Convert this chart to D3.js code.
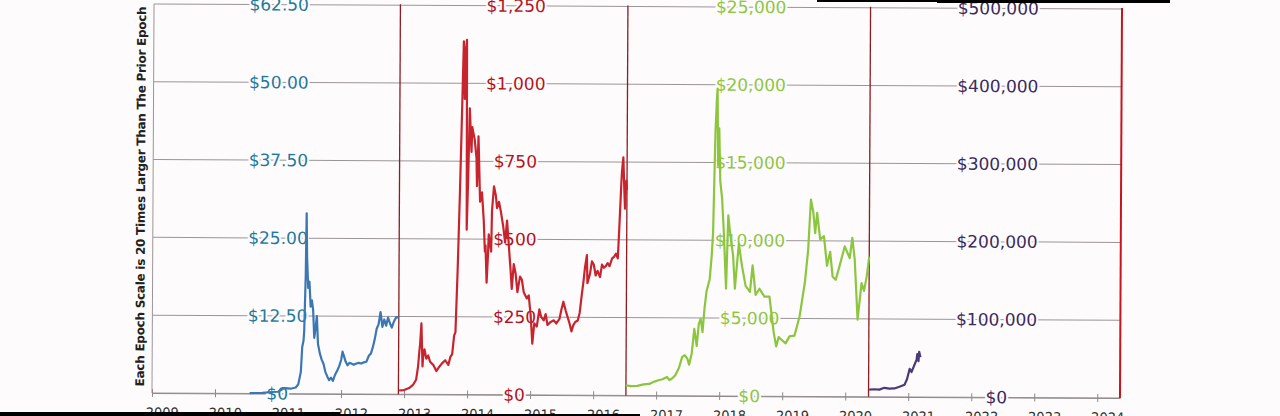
<!DOCTYPE html>
<html>
<head>
<meta charset="utf-8">
<script src="https://cdn.jsdelivr.net/npm/d3@7"></script>
<style>
  html, body { margin: 0; padding: 0; background: #fdfbfc; }
  svg { display: block; }
</style>
</head>
<body>
<div id="chart"></div>
<script>
// epoch boundaries (halvings) in decimal years
const epochStarts = [2009, 2012.91, 2016.52, 2020.37];
const epochEnd = 2024.36;
const epochMax = [62.5, 1250, 25000, 500000];
const yearTicks = d3.range(2009, 2025);

// epoch 1 - blue
const e1Years = [2010.55, 2010.75, 2010.9, 2011.0, 2011.1, 2011.2, 2011.28, 2011.32, 2011.36, 2011.38, 2011.40, 2011.41, 2011.43, 2011.44, 2011.45, 2011.47, 2011.49, 2011.51, 2011.53, 2011.55, 2011.57, 2011.59, 2011.61, 2011.63, 2011.66, 2011.69, 2011.72, 2011.75, 2011.78, 2011.81, 2011.84, 2011.87, 2011.90, 2011.94, 2011.97, 2012.00, 2012.02, 2012.04, 2012.07, 2012.10, 2012.13, 2012.16, 2012.20, 2012.24, 2012.28, 2012.32, 2012.36, 2012.40, 2012.44, 2012.47, 2012.50, 2012.53, 2012.56, 2012.59, 2012.62, 2012.63, 2012.65, 2012.68, 2012.71, 2012.74, 2012.77, 2012.80, 2012.83, 2012.87, 2012.91];
const e1Prices = [0.06, 0.1, 0.25, 0.3, 0.9, 0.8, 1.0, 1.5, 3.5, 7.5, 8.5, 10, 19, 29, 22, 17, 18, 14, 15, 13.5, 9, 10.5, 12.5, 8, 6.5, 5.5, 4.8, 3.5, 2.8, 2.2, 2.6, 2.1, 3.0, 3.8, 4.5, 5.5, 6.8, 6.2, 5.2, 4.6, 5.0, 4.9, 4.7, 4.9, 5.0, 4.9, 5.1, 5.2, 6.2, 6.5, 7.5, 8.8, 10.5, 11.2, 13.2, 12.5, 10.8, 12.0, 11.0, 12.3, 11.4, 10.7, 11.6, 12.4, 12.3];

// epoch 2 - red
const e2Years = [2012.92, 2013.00, 2013.08, 2013.14, 2013.19, 2013.22, 2013.24, 2013.25, 2013.27, 2013.29, 2013.30, 2013.32, 2013.35, 2013.38, 2013.41, 2013.46, 2013.51, 2013.56, 2013.60, 2013.65, 2013.70, 2013.73, 2013.76, 2013.79, 2013.81, 2013.84, 2013.87, 2013.89, 2013.92, 2013.94, 2013.95, 2013.97, 2013.98, 2014.00, 2014.02, 2014.05, 2014.06, 2014.10, 2014.13, 2014.14, 2014.16, 2014.19, 2014.22, 2014.25, 2014.27, 2014.28, 2014.30, 2014.32, 2014.33, 2014.37, 2014.38, 2014.41, 2014.44, 2014.46, 2014.49, 2014.52, 2014.56, 2014.59, 2014.62, 2014.65, 2014.68, 2014.70, 2014.73, 2014.76, 2014.79, 2014.83, 2014.86, 2014.89, 2014.94, 2014.97, 2015.00, 2015.02, 2015.03, 2015.06, 2015.10, 2015.14, 2015.17, 2015.21, 2015.24, 2015.27, 2015.32, 2015.37, 2015.41, 2015.46, 2015.49, 2015.52, 2015.56, 2015.59, 2015.62, 2015.65, 2015.68, 2015.71, 2015.75, 2015.78, 2015.81, 2015.84, 2015.86, 2015.89, 2015.90, 2015.94, 2015.97, 2016.00, 2016.03, 2016.06, 2016.10, 2016.13, 2016.16, 2016.19, 2016.22, 2016.25, 2016.29, 2016.32, 2016.35, 2016.38, 2016.40, 2016.41, 2016.43, 2016.44, 2016.46, 2016.48, 2016.49, 2016.51, 2016.52];
const e2Prices = [12, 13.5, 20, 30, 47, 90, 140, 160, 228, 90, 120, 145, 115, 125, 105, 95, 75, 90, 100, 110, 95, 120, 130, 190, 200, 400, 650, 840, 1135, 950, 1100, 1140, 530, 700, 920, 780, 860, 820, 760, 670, 830, 620, 650, 560, 460, 480, 360, 450, 515, 460, 590, 670, 640, 600, 620, 590, 540, 490, 560, 480, 400, 340, 420, 390, 330, 380, 370, 330, 310, 320, 260, 200, 165, 230, 220, 275, 250, 240, 260, 225, 235, 240, 230, 245, 275, 300, 270, 250, 230, 205, 225, 235, 240, 265, 320, 370, 410, 450, 360, 390, 430, 420, 385, 400, 380, 420, 410, 415, 425, 415, 440, 445, 455, 440, 530, 580, 680, 720, 765, 650, 600, 690, 660];

// epoch 3 - green
const e3Years = [2016.52, 2016.60, 2016.70, 2016.80, 2016.89, 2016.97, 2017.05, 2017.10, 2017.17, 2017.21, 2017.25, 2017.30, 2017.36, 2017.41, 2017.45, 2017.49, 2017.52, 2017.56, 2017.60, 2017.64, 2017.67, 2017.70, 2017.73, 2017.76, 2017.79, 2017.84, 2017.87, 2017.89, 2017.92, 2017.94, 2017.95, 2017.965, 2017.98, 2018.00, 2018.03, 2018.06, 2018.10, 2018.13, 2018.16, 2018.21, 2018.24, 2018.27, 2018.30, 2018.35, 2018.41, 2018.48, 2018.52, 2018.57, 2018.63, 2018.71, 2018.79, 2018.86, 2018.90, 2018.94, 2018.98, 2019.05, 2019.11, 2019.19, 2019.27, 2019.35, 2019.40, 2019.44, 2019.48, 2019.51, 2019.54, 2019.59, 2019.65, 2019.70, 2019.75, 2019.79, 2019.84, 2019.90, 2019.98, 2020.06, 2020.10, 2020.14, 2020.19, 2020.25, 2020.29, 2020.33, 2020.37];
const e3Prices = [650, 600, 620, 720, 750, 900, 1000, 1050, 1200, 1000, 1100, 1300, 1800, 2500, 2600, 2400, 2000, 2700, 4300, 3200, 4600, 4950, 4100, 5600, 6700, 7500, 9000, 10500, 17000, 19100, 19750, 14800, 17200, 13800, 12700, 10550, 6900, 11600, 10500, 9000, 6900, 8370, 9800, 8400, 7080, 6700, 8400, 6500, 6900, 6400, 6400, 4100, 3200, 3800, 3650, 3400, 3850, 3900, 5150, 7300, 9400, 12650, 11800, 10500, 11800, 10100, 10300, 8400, 9300, 7700, 7500, 8400, 9650, 8900, 10200, 8800, 4950, 7300, 6800, 7700, 9000];

// epoch 4 - purple
const e4Years = [2020.38, 2020.46, 2020.54, 2020.62, 2020.70, 2020.78, 2020.86, 2020.94, 2020.98, 2021.02, 2021.05, 2021.08, 2021.10, 2021.13, 2021.14, 2021.16, 2021.17, 2021.19];
const e4Prices = [9000, 9600, 9200, 11500, 10500, 10800, 13000, 15500, 23000, 36000, 32000, 38000, 42000, 48000, 55000, 46000, 58000, 51000];

const lineColors = ["#3a77b3", "#c8242e", "#8cc63f", "#4a3a78"];
const labelColors = ["#1f7a9b", "#b3131c", "#8dc641", "#3b2a5c"];

const W = 1280, H = 416;
const plotLeft = 153, plotRight = 1121, plotTop = 6.5, plotBottom = 395.5;

const svg = d3.select("#chart").append("svg").attr("width", W).attr("height", H);
svg.append("rect").attr("width", W).attr("height", H).attr("fill", "#fdfbfc");

// the photo is slightly tilted
const g = svg.append("g").attr("transform", "rotate(0.3, 640, 200)");

const x = d3.scaleLinear().domain([epochStarts[0], epochEnd]).range([plotLeft, plotRight]);
const yScales = epochMax.map(m => d3.scaleLinear().domain([0, m]).range([plotBottom, plotTop]));
const yTicks = epochMax.map(m => d3.range(0, 6).map(k => k * m / 5));

// grid
g.selectAll(".grid")
  .data(yTicks[0])
  .enter()
  .append("line")
  .attr("x1", plotLeft).attr("x2", plotRight)
  .attr("y1", d => yScales[0](d)).attr("y2", d => yScales[0](d))
  .attr("stroke", "#9c9597").attr("stroke-width", 1);

g.append("line")
  .attr("x1", plotLeft).attr("x2", plotLeft).attr("y1", plotTop).attr("y2", plotBottom)
  .attr("stroke", "#9c9597");

// x axis
const xAxis = g.append("g")
  .attr("transform", "translate(0," + plotBottom + ")")
  .call(d3.axisBottom(x).tickValues(yearTicks).tickFormat(d3.format("d")).tickSize(4).tickSizeOuter(0));
xAxis.select(".domain").attr("stroke", "#8f898b");
xAxis.selectAll(".tick line").attr("y1", -4).attr("stroke", "#8f898b");
xAxis.selectAll(".tick text")
  .attr("dx", 10).attr("dy", 17)
  .attr("fill", "#333").style("font-family", "DejaVu Sans").style("font-size", "13px");

// epoch dividers
const dividers = epochStarts.slice(1).concat([epochEnd]);
g.selectAll(".divider")
  .data(dividers)
  .enter()
  .append("line")
  .attr("x1", d => x(d)).attr("x2", d => x(d))
  .attr("y1", plotTop - 1).attr("y2", plotBottom)
  .attr("stroke", (d, i) => i === dividers.length - 1 ? "#c8141d" : "#8e1c22")
  .attr("stroke-width", (d, i) => i === dividers.length - 1 ? 2 : 1.3);

// tick labels, centred in each epoch
const fmt1 = d => d === 0 ? "$0" : d3.format("$,.2f")(d);
const fmtN = d => d3.format("$,")(d);
epochMax.forEach((m, i) => {
  const x0 = x(epochStarts[i]);
  const x1 = x(i < 3 ? epochStarts[i + 1] : epochEnd);
  const cx = (x0 + x1) / 2 + 2;
  g.append("g").selectAll("text")
    .data(yTicks[i])
    .enter()
    .append("text")
    .attr("x", cx)
    .attr("y", d => yScales[i](d))
    .attr("dy", "0.35em")
    .attr("text-anchor", "middle")
    .attr("fill", labelColors[i])
    .attr("stroke", "#fdfbfc").attr("stroke-width", 4).attr("paint-order", "stroke")
    .style("font-family", "DejaVu Sans").style("font-size", "17px")
    .text(d => i === 0 ? fmt1(d) : fmtN(d));
});

// price lines
const series = [[e1Years, e1Prices], [e2Years, e2Prices], [e3Years, e3Prices], [e4Years, e4Prices]];
series.forEach(([yrs, prices], i) => {
  const data = yrs.map((yr, k) => ({ yr: yr, p: prices[k] }));
  const line = d3.line().x(d => x(d.yr)).y(d => yScales[i](d.p));
  g.append("path")
    .datum(data)
    .attr("d", line)
    .attr("fill", "none")
    .attr("stroke", lineColors[i])
    .attr("stroke-width", 2.2)
    .attr("stroke-linejoin", "round");
});

// y title
g.append("text")
  .attr("transform", "translate(145," + ((plotTop + plotBottom) / 2 - 2) + ") rotate(-90)")
  .attr("text-anchor", "middle")
  .attr("textLength", 380)
  .attr("lengthAdjust", "spacing")
  .attr("fill", "#222")
  .style("font-family", "DejaVu Sans").style("font-size", "12px").style("font-weight", "bold")
  .text("Each Epoch Scale is 20 Times Larger Than The Prior Epoch");

// dark bars along the photo edges
svg.append("rect").attr("x", 0).attr("y", 412).attr("width", 340).attr("height", 4).attr("fill", "#000");
svg.append("rect").attr("x", 340).attr("y", 414).attr("width", 300).attr("height", 2).attr("fill", "#000");
svg.append("rect").attr("x", 817).attr("y", 0).attr("width", 120).attr("height", 2).attr("fill", "#000");
svg.append("rect").attr("x", 937).attr("y", 0).attr("width", 233).attr("height", 3).attr("fill", "#000");
</script>
</body>
</html>
